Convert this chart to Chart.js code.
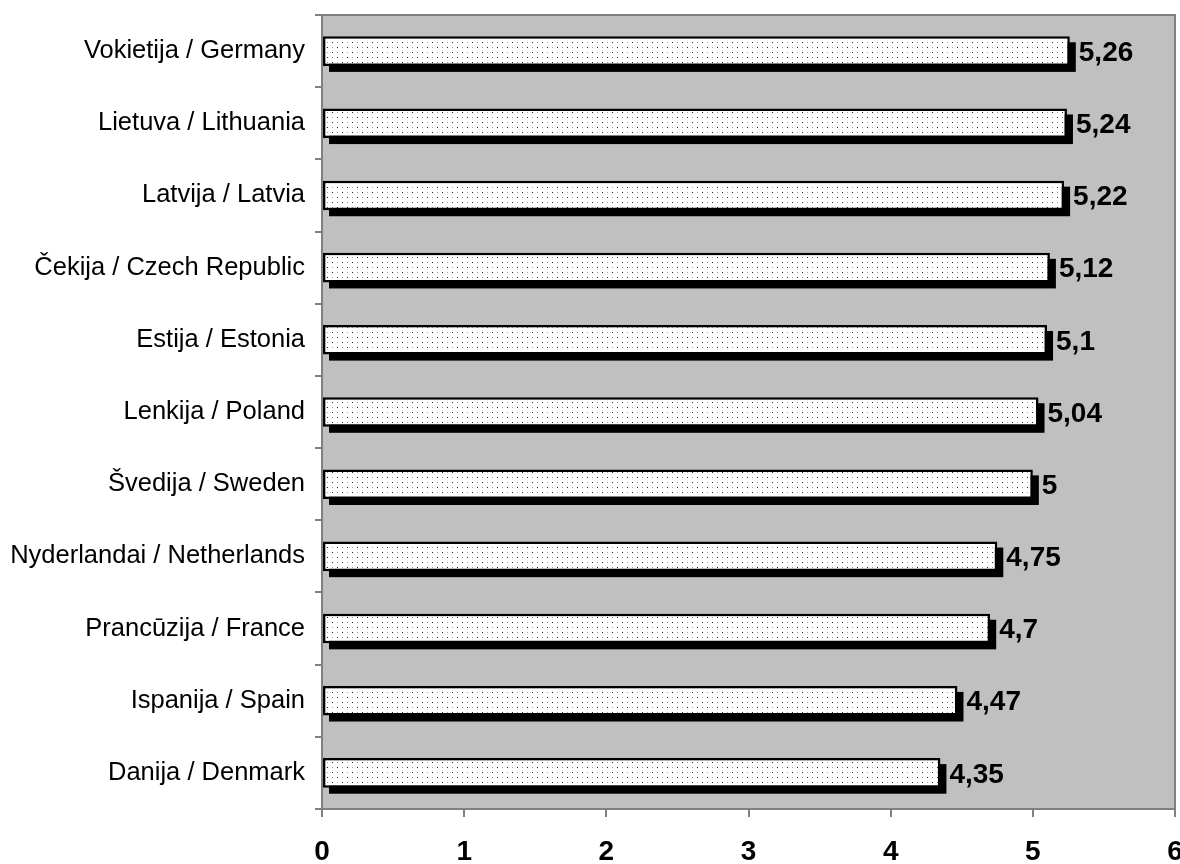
<!DOCTYPE html>
<html>
<head>
<meta charset="utf-8">
<script src="https://cdn.jsdelivr.net/npm/chart.js@4.4.1/dist/chart.umd.min.js"></script>
<style>
  html, body { margin: 0; padding: 0; background: #fff; }
  #wrap { width: 1180px; height: 864px; }
</style>
</head>
<body>
<div id="wrap"><canvas id="c"></canvas></div>
<script>
const countries = [
  'Vokietija / Germany', 'Lietuva / Lithuania', 'Latvija / Latvia',
  'Čekija / Czech Republic', 'Estija / Estonia', 'Lenkija / Poland',
  'Švedija / Sweden', 'Nyderlandai / Netherlands', 'Prancūzija / France',
  'Ispanija / Spain', 'Danija / Denmark'
];
const values = [5.26, 5.24, 5.22, 5.12, 5.1, 5.04, 5, 4.75, 4.7, 4.47, 4.35];
const xTicks = [0, 1, 2, 3, 4, 5, 6];

// dotted white fill like the old office pattern
function dotPattern() {
  const p = document.createElement('canvas');
  p.width = 10; p.height = 10;
  const g = p.getContext('2d');
  g.fillStyle = '#fff'; g.fillRect(0, 0, 10, 10);
  g.fillStyle = '#222'; g.fillRect(2, 2, 1, 1); g.fillRect(7, 7, 1, 1);
  g.fillStyle = '#a0a0a0'; g.fillRect(7, 2, 1, 1); g.fillRect(2, 7, 1, 1);
  return g.createPattern(p, 'repeat');
}

const plotBg = {
  id: 'plotBg',
  beforeDraw(chart) {
    const { ctx, chartArea: a } = chart;
    ctx.save();
    ctx.fillStyle = '#c0c0c0';
    ctx.fillRect(a.left, a.top, a.right - a.left, a.bottom - a.top);
    ctx.strokeStyle = '#808080';
    ctx.lineWidth = 2;
    ctx.strokeRect(a.left, a.top, a.right - a.left, a.bottom - a.top);
    ctx.restore();
  }
};

const shadows = {
  id: 'shadows',
  beforeDatasetsDraw(chart) {
    const ctx = chart.ctx;
    const meta = chart.getDatasetMeta(0);
    ctx.save();
    ctx.fillStyle = '#000';
    meta.data.forEach(b => {
      const h = b.height;
      ctx.fillRect(b.base + 6, b.y - h / 2 + 6, b.x - b.base, h);
    });
    ctx.restore();
  }
};

const valueLabels = {
  id: 'valueLabels',
  afterDatasetsDraw(chart) {
    const ctx = chart.ctx;
    const meta = chart.getDatasetMeta(0);
    ctx.save();
    ctx.fillStyle = '#000';
    ctx.font = 'bold 28px "Liberation Sans", Arial, sans-serif';
    ctx.textBaseline = 'middle';
    ctx.textAlign = 'left';
    meta.data.forEach((b, i) => {
      ctx.fillText(String(values[i]).replace('.', ','), b.x + 9, b.y + 2);
    });
    ctx.restore();
  }
};

new Chart(document.getElementById('c'), {
  type: 'bar',
  data: {
    labels: countries,
    datasets: [{
      data: values,
      backgroundColor: dotPattern(),
      borderColor: '#000',
      borderWidth: 2.5,
      borderSkipped: false,
      categoryPercentage: 1,
      barPercentage: 0.41
    }]
  },
  options: {
    indexAxis: 'y',
    responsive: true,
    maintainAspectRatio: false,
    animation: false,
    layout: { padding: { top: 15, right: 5, bottom: 0, left: 0 } },
    plugins: { legend: { display: false }, tooltip: { enabled: false } },
    scales: {
      x: {
        min: 0, max: 6,
        afterBuildTicks: s => { s.ticks = xTicks.map(v => ({ value: v })); },
        afterFit: s => { s.height = 55; s.paddingRight = 0; s.paddingLeft = 0; },
        grid: { drawOnChartArea: false, drawTicks: true, tickLength: 8, color: '#808080', lineWidth: 2 },
        border: { color: '#808080', width: 2 },
        ticks: {
          color: '#000',
          font: { family: '"Liberation Sans", Arial, sans-serif', size: 28, weight: 'bold' },
          padding: 18
        }
      },
      y: {
        afterFit: s => { s.width = 322; s.paddingTop = 0; s.paddingBottom = 0; },
        grid: { drawOnChartArea: false, drawTicks: true, tickLength: 7, color: '#808080', lineWidth: 2, offset: true },
        border: { color: '#808080', width: 2 },
        ticks: {
          color: '#000',
          font: { family: '"Liberation Sans", Arial, sans-serif', size: 25.5 },
          padding: 10
        }
      }
    }
  },
  plugins: [plotBg, shadows, valueLabels]
});
</script>
</body>
</html>
